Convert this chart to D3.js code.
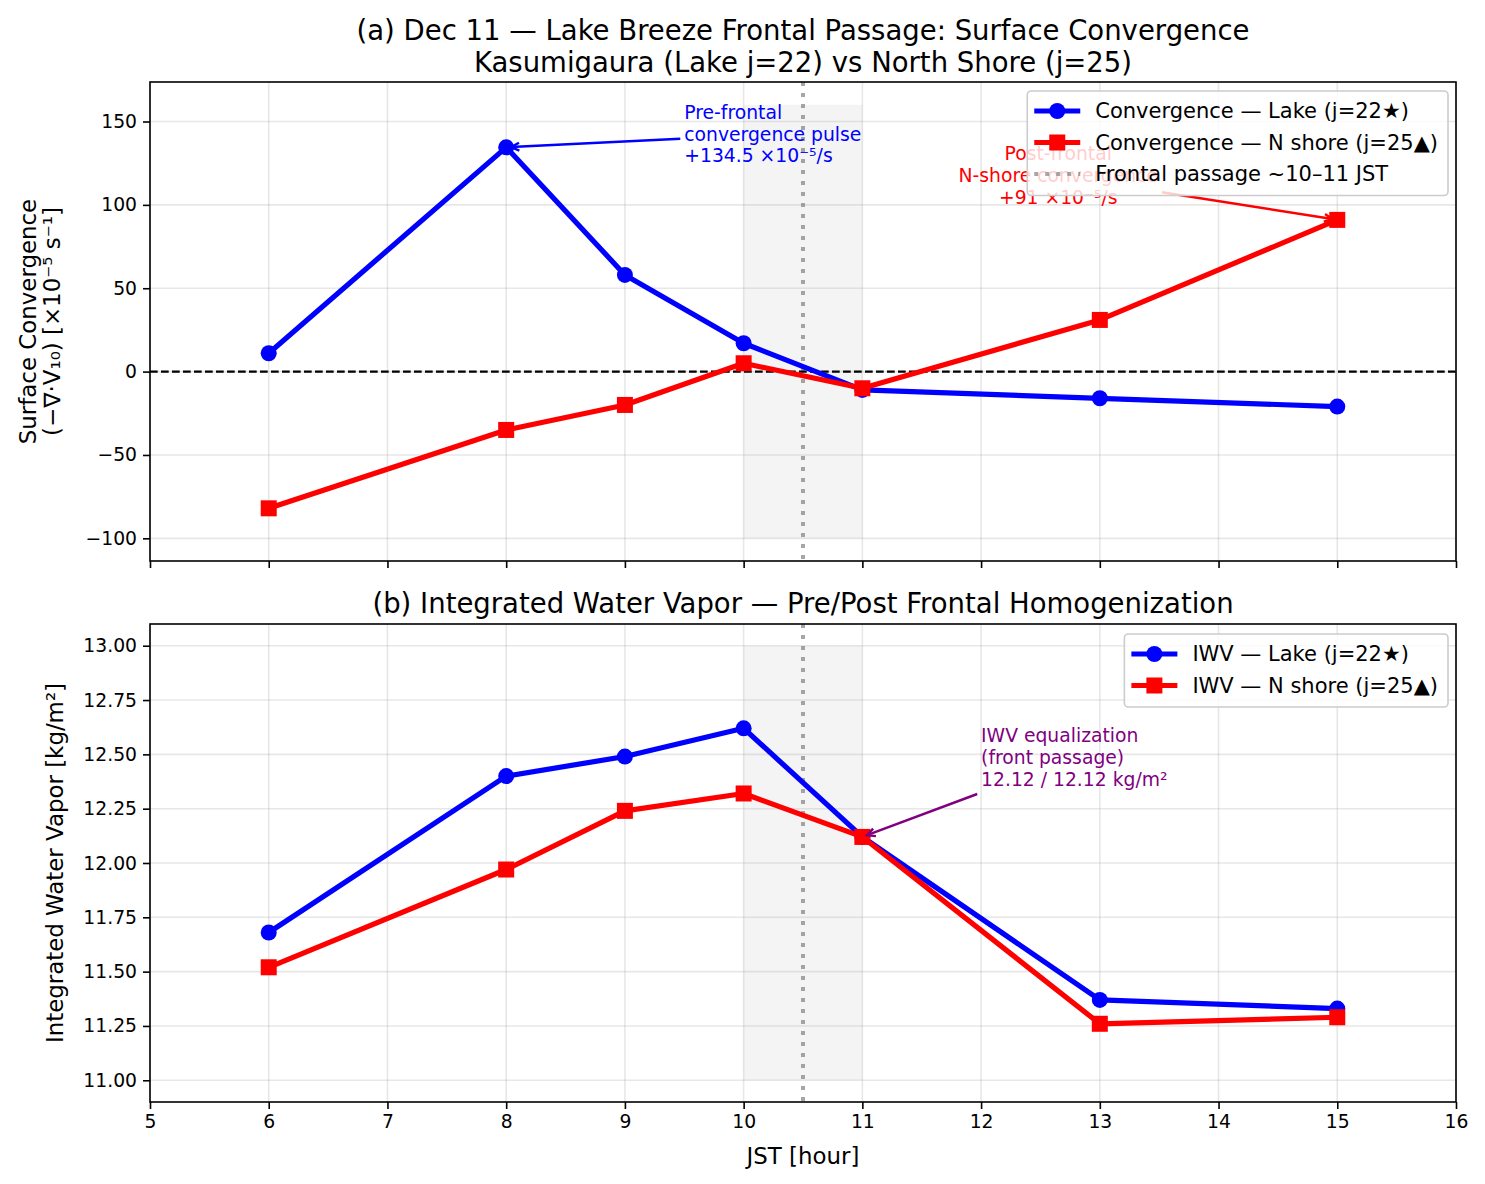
<!DOCTYPE html>
<html>
<head>
<meta charset="utf-8">
<script src="https://cdn.jsdelivr.net/npm/d3@7"></script>
<style>
  body { margin: 0; background: #fff; }
  svg { font-family: "DejaVu Sans", sans-serif; }
</style>
</head>
<body>
<svg id="chart" width="1485" height="1184"></svg>
<script>
// hours (JST) sampled
const hours = [6, 8, 9, 10, 11, 13, 15];

// surface convergence [x10^-5 s^-1]
const convLake = [11, 134.5, 58, 17, -11, -16, -21];
const convShore = [-82, -35, -20, 5, -10, 31, 91];

// integrated water vapor [kg/m2]
const iwvLake = [11.68, 12.40, 12.49, 12.62, 12.12, 11.37, 11.33];
const iwvShore = [11.52, 11.97, 12.24, 12.32, 12.12, 11.26, 11.29];

const xTicks = [5, 6, 7, 8, 9, 10, 11, 12, 13, 14, 15, 16];
const convTicks = [-100, -50, 0, 50, 100, 150];
const iwvTicks = [11.00, 11.25, 11.50, 11.75, 12.00, 12.25, 12.50, 12.75, 13.00];

const frontStart = 10, frontEnd = 11, frontMid = 10.5;

const svg = d3.select('#chart');
const left = 150, right = 1456;

const x = d3.scaleLinear().domain([5, 16]).range([left, right]);
const yTop = d3.scaleLinear().domain([-113.6, 173.7]).range([561, 82]);
const yBot = d3.scaleLinear().domain([10.9, 13.1]).range([1102, 624]);

const fmtMinus = s => s.replace('-', '\u2212');

const LW = 5.2, MR = 8;

// draw one panel background: shading, grid, front line
function panelBase(y, shadeY, yTicks) {
    const g = svg.append('g');
    const [y0, y1] = y.range(); // bottom, top

    // shaded frontal window
    g.append('rect')
        .attr('x', x(frontStart))
        .attr('y', y(shadeY[1]))
        .attr('width', x(frontEnd) - x(frontStart))
        .attr('height', y(shadeY[0]) - y(shadeY[1]))
        .attr('fill', '#808080')
        .attr('fill-opacity', 0.09);

    // grid
    g.selectAll('.gx').data(xTicks).enter().append('line')
        .attr('x1', d => x(d)).attr('x2', d => x(d))
        .attr('y1', y1).attr('y2', y0)
        .attr('stroke', '#b0b0b0').attr('stroke-opacity', 0.3).attr('stroke-width', 1.6);
    g.selectAll('.gy').data(yTicks).enter().append('line')
        .attr('x1', left).attr('x2', right)
        .attr('y1', d => y(d)).attr('y2', d => y(d))
        .attr('stroke', '#b0b0b0').attr('stroke-opacity', 0.3).attr('stroke-width', 1.6);

    // frontal passage line
    g.append('line')
        .attr('x1', x(frontMid)).attr('x2', x(frontMid))
        .attr('y1', y1).attr('y2', y0)
        .attr('stroke', '#808080').attr('stroke-opacity', 0.7)
        .attr('stroke-width', 4).attr('stroke-dasharray', '4,7');

    return g;
}

function panelAxes(y, yTicks, tickFmt, showXLabels) {
    const g = svg.append('g');
    const [y0, y1] = y.range();

    const yAxis = d3.axisLeft(y).tickValues(yTicks).tickFormat(tickFmt)
        .tickSizeInner(7).tickSizeOuter(0).tickPadding(6);
    const ya = g.append('g').attr('transform', `translate(${left},0)`).call(yAxis);

    const xAxis = d3.axisBottom(x).tickValues(xTicks)
        .tickFormat(showXLabels ? d3.format('d') : () => '')
        .tickSizeInner(7).tickSizeOuter(0).tickPadding(6);
    const xa = g.append('g').attr('transform', `translate(0,${y0})`).call(xAxis);

    [ya, xa].forEach(a => {
        a.select('.domain').remove();
        a.selectAll('line').attr('stroke', '#000').attr('stroke-width', 1.6);
        a.selectAll('text').attr('font-size', 18.75).attr('fill', '#000')
            .attr('font-family', '"DejaVu Sans", sans-serif');
    });

    // frame
    g.append('rect')
        .attr('x', left).attr('y', y1)
        .attr('width', right - left).attr('height', y0 - y1)
        .attr('fill', 'none').attr('stroke', '#000').attr('stroke-width', 1.6);
    return g;
}

function drawSeries(y, values, color, marker) {
    const g = svg.append('g');
    const pts = hours.map((h, i) => [h, values[i]]);
    g.append('path')
        .datum(pts)
        .attr('d', d3.line().x(d => x(d[0])).y(d => y(d[1])))
        .attr('fill', 'none')
        .attr('stroke', color)
        .attr('stroke-width', LW)
        .attr('stroke-linejoin', 'round');
    if (marker === 'circle') {
        g.selectAll('circle').data(pts).enter().append('circle')
            .attr('cx', d => x(d[0])).attr('cy', d => y(d[1]))
            .attr('r', MR).attr('fill', color);
    } else {
        g.selectAll('rect').data(pts).enter().append('rect')
            .attr('x', d => x(d[0]) - MR).attr('y', d => y(d[1]) - MR)
            .attr('width', 2 * MR).attr('height', 2 * MR).attr('fill', color);
    }
}

// annotation with arrow from text box toward a data point
function annotate(lines, tx, ty, px, py, color, anchor) {
    const g = svg.append('g');
    const lh = 21.8;
    const text = g.append('text')
        .attr('font-size', 18.75).attr('fill', color)
        .attr('text-anchor', anchor === 'middle' ? 'middle' : 'start');
    lines.forEach((l, i) => {
        text.append('tspan')
            .attr('x', tx)
            .attr('y', ty + (i - (lines.length - 1) / 2) * lh)
            .attr('dy', '0.35em')
            .text(l);
    });
    const bb = text.node().getBBox();
    const cx = bb.x + bb.width / 2, cy = bb.y + bb.height / 2;
    const hw = bb.width / 2 + 4, hh = bb.height / 2 + 4;
    const dx = px - cx, dy = py - cy;
    const t = Math.min(Math.abs(hw / dx) || Infinity, Math.abs(hh / dy) || Infinity);
    const sx = cx + dx * t, sy = cy + dy * t;
    const len = Math.hypot(px - sx, py - sy);
    const ux = (px - sx) / len, uy = (py - sy) / len;
    const ex = px - ux * 5, ey = py - uy * 5;
    const arrow = g.append('g').attr('stroke', color).attr('stroke-width', 2.5).attr('fill', 'none');
    arrow.append('line').attr('x1', sx).attr('y1', sy).attr('x2', ex).attr('y2', ey);
    const hl = 8, hwid = 4;
    arrow.append('path')
        .attr('d', `M${ex - ux * hl - uy * hwid},${ey - uy * hl + ux * hwid} L${ex},${ey} L${ex - ux * hl + uy * hwid},${ey - uy * hl - ux * hwid}`);
    return g;
}

function legend(items, yTopPx) {
    const g = svg.append('g');
    const fs = 21, rowH = 31.5;
    const texts = items.map((it, i) => g.append('text')
        .attr('font-size', fs).attr('fill', '#000')
        .attr('y', yTopPx + 20 + i * rowH).attr('dy', '0.35em')
        .text(it.label));
    const tw = d3.max(texts, t => t.node().getComputedTextLength());
    const boxW = tw + 68 + 10;
    const boxR = right - 8;
    const boxL = boxR - boxW;
    const boxH = items.length * rowH + 10;
    g.insert('rect', 'text')
        .attr('x', boxL).attr('y', yTopPx)
        .attr('width', boxW).attr('height', boxH)
        .attr('rx', 4)
        .attr('fill', '#fff').attr('fill-opacity', 0.8)
        .attr('stroke', '#cccccc').attr('stroke-width', 1.6);
    texts.forEach(t => t.attr('x', boxL + 68));
    items.forEach((it, i) => {
        const cy = yTopPx + 20 + i * rowH;
        const hx0 = boxL + 7, hx1 = boxL + 53, hm = (hx0 + hx1) / 2;
        const l = g.append('line').attr('x1', hx0).attr('x2', hx1).attr('y1', cy).attr('y2', cy)
            .attr('stroke', it.color);
        if (it.marker === 'dotted') {
            l.attr('stroke-width', 4).attr('stroke-opacity', 0.7).attr('stroke-dasharray', '4,7');
        } else {
            l.attr('stroke-width', LW);
        }
        if (it.marker === 'circle') {
            g.append('circle').attr('cx', hm).attr('cy', cy).attr('r', MR).attr('fill', it.color);
        } else if (it.marker === 'square') {
            g.append('rect').attr('x', hm - MR).attr('y', cy - MR).attr('width', 2 * MR).attr('height', 2 * MR)
                .attr('fill', it.color);
        }
    });
}

// ---------- panel (a) ----------
panelBase(yTop, [-100, 160], convTicks);
svg.append('line')
    .attr('x1', left).attr('x2', right)
    .attr('y1', yTop(0)).attr('y2', yTop(0))
    .attr('stroke', '#000').attr('stroke-width', 2.1).attr('stroke-dasharray', '7.7,3.3');
drawSeries(yTop, convLake, '#0000ff', 'circle');
drawSeries(yTop, convShore, '#ff0000', 'square');
panelAxes(yTop, convTicks, d => fmtMinus(String(d)), false);

annotate(['Pre-frontal', 'convergence pulse', '+134.5 \u00d710\u207b\u2075/s'],
    x(9.5), yTop(142.5), x(8), yTop(134.5), '#0000ff', 'start');
annotate(['Post-frontal', 'N-shore convergence', '+91 \u00d710\u207b\u2075/s'],
    x(12.65), yTop(117.5), x(15), yTop(91), '#ff0000', 'middle');

legend([
    { label: 'Convergence \u2014 Lake (j=22\u2605)', color: '#0000ff', marker: 'circle' },
    { label: 'Convergence \u2014 N shore (j=25\u25b2)', color: '#ff0000', marker: 'square' },
    { label: 'Frontal passage ~10\u201311 JST', color: '#808080', marker: 'dotted' }
], 91);

svg.append('text').attr('x', (left + right) / 2).attr('y', 30).attr('dy', '0.35em')
    .attr('text-anchor', 'middle').attr('font-size', 27.5)
    .text('(a) Dec 11 \u2014 Lake Breeze Frontal Passage: Surface Convergence');
svg.append('text').attr('x', (left + right) / 2).attr('y', 62).attr('dy', '0.35em')
    .attr('text-anchor', 'middle').attr('font-size', 27.5)
    .text('Kasumigaura (Lake j=22) vs North Shore (j=25)');

const ylabA = svg.append('text').attr('transform', `translate(28,${(82 + 561) / 2}) rotate(-90)`)
    .attr('text-anchor', 'middle').attr('font-size', 22.9);
ylabA.append('tspan').attr('x', 0).attr('y', 0).attr('dy', '0.35em').text('Surface Convergence');
ylabA.append('tspan').attr('x', 0).attr('y', 24).attr('dy', '0.35em')
    .text('(\u2212\u2207\u00b7V\u2081\u2080) [\u00d710\u207b\u2075 s\u207b\u00b9]');

// ---------- panel (b) ----------
panelBase(yBot, [11, 13], iwvTicks);
drawSeries(yBot, iwvLake, '#0000ff', 'circle');
drawSeries(yBot, iwvShore, '#ff0000', 'square');
panelAxes(yBot, iwvTicks, d3.format('.2f'), true);

annotate(['IWV equalization', '(front passage)', '12.12 / 12.12 kg/m\u00b2'],
    x(12.0), yBot(12.485), x(11), yBot(12.12), '#800080', 'start');

legend([
    { label: 'IWV \u2014 Lake (j=22\u2605)', color: '#0000ff', marker: 'circle' },
    { label: 'IWV \u2014 N shore (j=25\u25b2)', color: '#ff0000', marker: 'square' }
], 634);

svg.append('text').attr('x', (left + right) / 2).attr('y', 603).attr('dy', '0.35em')
    .attr('text-anchor', 'middle').attr('font-size', 27.5)
    .text('(b) Integrated Water Vapor \u2014 Pre/Post Frontal Homogenization');

svg.append('text').attr('transform', `translate(55,${(624 + 1102) / 2}) rotate(-90)`)
    .attr('text-anchor', 'middle').attr('font-size', 22.9).attr('dy', '0.35em')
    .text('Integrated Water Vapor [kg/m\u00b2]');

svg.append('text').attr('x', (left + right) / 2).attr('y', 1156).attr('dy', '0.35em')
    .attr('text-anchor', 'middle').attr('font-size', 22.9)
    .text('JST [hour]');
</script>
</body>
</html>
